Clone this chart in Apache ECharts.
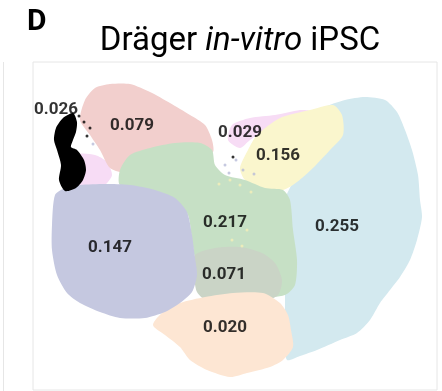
<!DOCTYPE html>
<html>
<head>
<meta charset="utf-8">
<script src="https://cdn.jsdelivr.net/npm/echarts@6/dist/echarts.min.js"></script>
<style>
  html, body { margin: 0; padding: 0; background: #fff; }
  #chart { width: 442px; height: 391px; }
</style>
</head>
<body>
<div id="chart"></div>
<script>
// Embedding extent (arbitrary UMAP units)
const xRange = [0, 40.4];
const yRange = [0, 32.8];

// Cluster outlines in embedding coordinates; each cluster may have several rings
const blueRings = [[
  [29.4, 28.4], [31.2, 29.0], [33.2, 29.3], [35.2, 29.0], [36.4, 27.8], [37.2, 26.0],
  [37.9, 24.0], [38.5, 21.5], [38.7, 19.0], [38.9, 17.3], [38.4, 15.0], [37.7, 13.0],
  [36.7, 11.3], [35.7, 10.0], [34.7, 8.7], [33.7, 7.0], [32.4, 5.7], [30.7, 5.0],
  [28.4, 4.0], [26.7, 3.4], [25.4, 3.0], [25.2, 5.0], [25.2, 9.0], [25.2, 13.0],
  [25.2, 19.0], [26.7, 22.0], [28.7, 26.0], [28.9, 28.0]
]];
const magentaRings = [[
  [19.5, 25.0], [19.9, 26.5], [21.7, 27.2], [24.2, 27.5], [26.7, 28.0], [27.7, 27.9],
  [25.2, 26.8], [23.2, 26.0], [21.7, 25.0], [20.7, 24.2]
], [
  [4.4, 23.5], [6.2, 23.5], [7.4, 22.8], [7.9, 21.5], [7.2, 20.5], [5.7, 19.8],
  [4.5, 19.7], [4.1, 21.0]
]];
const yellowRings = [[
  [22.4, 25.5], [24.7, 27.2], [27.7, 28.0], [30.0, 28.5], [30.9, 27.5], [31.0, 25.5],
  [29.7, 24.0], [28.0, 22.2], [26.4, 20.8], [25.0, 20.0], [22.7, 20.2], [21.2, 21.0],
  [20.7, 22.2], [21.5, 24.0]
]];
const pinkRings = [[
  [6.2, 30.2], [7.7, 30.6], [9.7, 30.6], [11.7, 29.8], [13.7, 28.7], [15.7, 27.5],
  [17.2, 26.5], [17.9, 25.0], [18.0, 23.8], [16.7, 23.8], [11.7, 23.8], [9.7, 23.2],
  [9.2, 21.8], [7.7, 22.2], [6.7, 24.0], [5.7, 25.5], [4.7, 27.0], [5.2, 29.0]
]];
const greenRings = [[
  [8.7, 22.0], [9.7, 23.5], [11.7, 24.2], [14.2, 24.7], [16.7, 24.7], [17.9, 24.0],
  [18.2, 22.5], [19.2, 21.5], [21.2, 21.0], [23.2, 20.2], [25.0, 20.0], [25.7, 19.0],
  [26.0, 16.0], [26.4, 13.0], [26.2, 10.5], [25.2, 9.5], [22.7, 9.2], [20.2, 9.5],
  [17.2, 10.0], [16.4, 12.0], [15.9, 15.0], [15.5, 17.5], [14.2, 19.0], [11.7, 20.0],
  [8.7, 20.5]
]];
const grayRings = [[
  [16.2, 13.5], [18.2, 14.2], [20.7, 14.3], [22.9, 13.7], [24.2, 12.7], [24.9, 11.0],
  [24.5, 9.5], [22.7, 8.7], [20.2, 8.4], [17.7, 8.7], [16.4, 9.8], [16.1, 11.8]
]];
const peachRings = [[
  [12.0, 6.5], [13.0, 7.8], [14.7, 8.7], [17.2, 9.3], [20.0, 9.7], [23.0, 9.7],
  [24.7, 8.7], [25.5, 7.5], [25.8, 6.0], [26.0, 4.3], [25.0, 3.0], [23.7, 2.3],
  [21.4, 1.7], [19.7, 1.3], [17.4, 2.0], [15.7, 3.0], [14.7, 4.3], [13.2, 5.5]
]];
const lavenderRings = [[
  [2.2, 19.5], [3.2, 20.2], [4.7, 20.5], [7.2, 20.6], [9.7, 20.5], [12.2, 20.0],
  [14.2, 19.2], [15.4, 17.8], [15.9, 15.5], [16.2, 13.2], [16.4, 11.5], [15.9, 9.8],
  [14.7, 8.7], [13.2, 7.8], [11.2, 7.2], [8.7, 7.2], [6.7, 7.8], [4.7, 8.7],
  [3.4, 9.7], [2.4, 11.5], [1.9, 14.0], [1.9, 16.5]
]];
const blackRings = [[
  [3.0, 27.2], [4.0, 27.7], [4.4, 26.8], [4.3, 25.8], [4.0, 25.0], [3.8, 24.3],
  [4.4, 24.0], [5.1, 23.0], [5.3, 22.0], [5.0, 21.0], [4.3, 20.2], [3.2, 19.9],
  [2.6, 21.0], [2.8, 22.5], [2.4, 24.0], [2.1, 25.0], [2.3, 26.2]
]];

// Isolated cells lying outside the main cluster bodies
const strayBlack = [[20.0, 23.3], [5.1, 26.8], [5.7, 26.2], [4.6, 27.4], [5.4, 25.4]];
const strayLavender = [[19.2, 22.5], [20.3, 23.0], [21.0, 22.0], [19.6, 21.7], [6.0, 24.6], [22.1, 21.6]];
const strayYellow = [[19.7, 21.0], [20.7, 20.5], [19.9, 15.0], [21.4, 16.0], [18.6, 20.6], [21.8, 19.8], [20.9, 14.4]];

// Cluster fractions and where each one is labelled
const fractionLabels = ['0.026', '0.079', '0.029', '0.156', '0.217', '0.255', '0.147', '0.071', '0.020'];
const fractionPositions = [
  [2.3, 28.0], [9.9, 26.4], [20.7, 25.7], [24.5, 23.4], [19.2, 16.7],
  [30.4, 16.3], [7.7, 14.2], [19.1, 11.5], [19.2, 6.2]
];

// Draw order (back to front) and fill colours
const clusters = [
  { name: 'blue', rings: blueRings, color: '#d3e9ef' },
  { name: 'magenta', rings: magentaRings, color: '#f7dcf5' },
  { name: 'yellow', rings: yellowRings, color: '#faf6cd' },
  { name: 'pink', rings: pinkRings, color: '#f2cfcd' },
  { name: 'green', rings: greenRings, color: '#c6e0c5' },
  { name: 'gray', rings: grayRings, color: '#cad4c6' },
  { name: 'peach', rings: peachRings, color: '#fde6d3' },
  { name: 'lavender', rings: lavenderRings, color: '#c5c8e0' },
  { name: 'black', rings: blackRings, color: '#000000' }
];

const polygonSeries = clusters.map(function (c) {
  return {
    type: 'custom',
    name: c.name,
    coordinateSystem: 'cartesian2d',
    silent: true,
    data: c.rings.map(function (ring, i) { return [ring[0][0], ring[0][1], i]; }),
    renderItem: function (params, api) {
      const ring = c.rings[params.dataIndex];
      return {
        type: 'polygon',
        shape: { points: ring.map(function (p) { return api.coord(p); }), smooth: 0.25 },
        style: { fill: c.color, stroke: null }
      };
    }
  };
});

function strays(data, color) {
  return { type: 'scatter', data: data, symbolSize: 3, itemStyle: { color: color }, silent: true };
}

const chart = echarts.init(document.getElementById('chart'), null, { renderer: 'canvas' });
chart.setOption({
  animation: false,
  backgroundColor: '#ffffff',
  title: [{
    text: 'D',
    left: 22, top: 2,
    textStyle: { fontFamily: 'Roboto', fontSize: 30, fontWeight: 'bold', color: '#000' }
  }, {
    text: 'Dräger {i|in-vitro} iPSC',
    left: 235, top: 20, textAlign: 'center',
    textStyle: {
      fontFamily: 'Roboto', fontSize: 33, fontWeight: 'normal', color: '#000',
      rich: { i: { fontFamily: 'Roboto', fontSize: 33, fontStyle: 'italic', color: '#000' } }
    }
  }],
  grid: {
    left: 33, top: 62, width: 404, height: 328,
    show: true, borderColor: '#e6e6e6', borderWidth: 1, backgroundColor: 'transparent'
  },
  xAxis: { type: 'value', min: xRange[0], max: xRange[1], show: false },
  yAxis: { type: 'value', min: yRange[0], max: yRange[1], show: false },
  graphic: [{
    type: 'line', shape: { x1: 3.5, y1: 62, x2: 3.5, y2: 391 },
    style: { stroke: '#e6e6e6', lineWidth: 1 }
  }],
  series: polygonSeries.concat([
    strays(strayLavender, '#b8bcd8'),
    strays(strayYellow, '#f5efb8'),
    strays(strayBlack, '#000000'),
    {
      type: 'scatter',
      symbolSize: 1,
      silent: true,
      itemStyle: { color: 'rgba(0,0,0,0)' },
      data: fractionPositions.map(function (p, i) { return { value: p, name: fractionLabels[i] }; }),
      label: {
        show: true, position: 'inside', formatter: '{b}',
        fontFamily: 'Roboto', fontSize: 17, fontWeight: 'bold', color: '#000',
        textBorderWidth: 0, textShadowBlur: 0
      },
      z: 10
    }
  ])
});
</script>
</body>
</html>
